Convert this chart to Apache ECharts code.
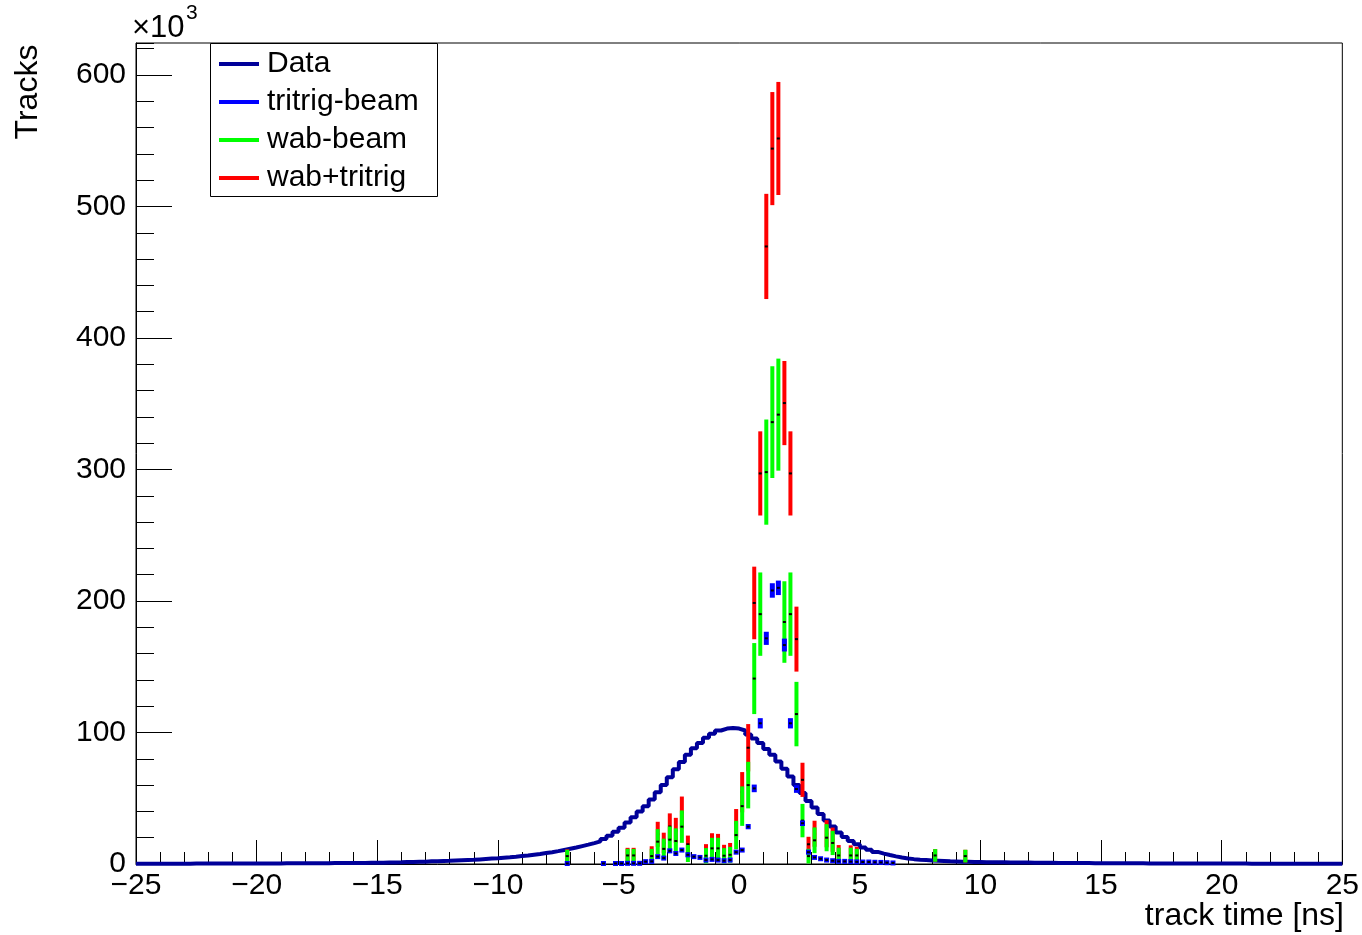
<!DOCTYPE html>
<html>
<head>
<meta charset="utf-8">
<script src="https://cdn.jsdelivr.net/npm/echarts@6/dist/echarts.min.js"></script>
<style>
html,body{margin:0;padding:0;background:#fff;}
#main{width:1362px;height:935px;}
</style>
</head>
<body>
<div id="main"></div>
<script>
// ---- Data (values in thousands of tracks) ----
const binLow = -25;
const binWidth = 0.25;
const dataCounts = [
  0.2,0.2,0.2,0.2,0.2,0.2,0.2,0.2,0.2,0.3,
  0.3,0.3,0.3,0.3,0.3,0.3,0.3,0.4,0.4,0.4,
  0.4,0.4,0.4,0.4,0.5,0.5,0.5,0.5,0.6,0.6,
  0.6,0.6,0.7,0.7,0.7,0.8,0.8,0.8,0.9,0.9,
  1.0,1.1,1.2,1.3,1.5,1.6,1.7,1.8,2.0,2.1,
  2.3,2.4,2.6,2.8,3.0,3.2,3.5,3.8,4.1,4.4,
  4.8,5.1,5.5,6.0,6.4,7.0,7.6,8.3,9.0,9.8,
  10.7,11.6,12.5,13.6,14.7,15.9,17.2,19.0,21.5,24.5,
  27.5,31.5,35.5,40,44,49,54.5,60,66,72,
  77.5,83,88,92,96,99,101.5,103,103.5,103,
  101.5,98.5,95.5,92,87.5,83,78,72.5,66.5,60,
  54,48,43,38,33,28.5,24,20.5,17.5,15,
  12.5,10.8,9.2,7.9,6.8,5.8,4.9,4.2,3.7,3.3,
  3.0,2.7,2.5,2.3,2.1,1.95,1.8,1.7,1.6,1.5,
  1.4,1.35,1.3,1.25,1.2,1.15,1.1,1.05,1.0,0.95,
  0.9,0.9,0.85,0.8,0.8,0.75,0.7,0.7,0.65,0.6,
  0.6,0.6,0.55,0.55,0.5,0.5,0.5,0.45,0.45,0.45,
  0.4,0.4,0.4,0.4,0.35,0.35,0.35,0.35,0.3,0.3,
  0.3,0.3,0.3,0.3,0.25,0.25,0.25,0.25,0.25,0.25,
  0.2,0.2,0.2,0.2,0.2,0.2,0.2,0.2,0.2,0.2
];

const tritrigT = [-7.125,-5.625,-5.125,-4.875,-4.625,-4.375,-4.125,-3.875,-3.625,-3.375,-3.125,-2.875,-2.625,-2.375,-2.125,-1.875,-1.625,-1.375,-1.125,-0.875,-0.625,-0.375,-0.125,0.125,0.375,0.625,0.875,1.125,1.375,1.625,1.875,2.125,2.375,2.625,2.875,3.125,3.375,3.625,3.875,4.125,4.375,4.625,4.875,5.125,5.375,5.625,5.875,6.125,6.375];
const tritrigV = [0.4,0.4,0.4,0.4,0.5,0.5,0.5,1.8,2,5.6,4.5,10,8,10.6,7,5.6,5,3,3.5,3,2.5,3,9,10.6,28.4,57.5,107,171.6,208,210,166.5,107,57,31,9,5,4,3,2.5,2,2,1.8,1.6,1.5,1.5,1.3,1.2,1.0,0.8];
const tritrigE = [0.24,0.24,0.24,0.24,0.27,0.27,0.27,0.5,0.54,0.9,0.8,1.2,1.1,1.2,1.0,0.9,0.85,0.66,0.7,0.66,0.6,0.66,1.15,1.2,2.0,2.9,3.9,5.0,5.5,5.5,4.9,3.9,2.9,2.1,1.15,0.85,0.76,0.66,0.6,0.54,0.54,0.5,0.48,0.47,0.47,0.43,0.42,0.38,0.34];

const wabT = [-7.125,-4.625,-4.375,-3.625,-3.375,-3.125,-2.875,-2.625,-2.375,-2.125,-1.375,-1.125,-0.875,-0.625,-0.375,-0.125,0.125,0.375,0.625,0.875,1.125,1.375,1.625,1.875,2.125,2.375,2.625,2.875,3.125,3.625,3.875,4.125,4.625,4.875,8.125,9.375];
const wabV = [6,6.5,6.5,6,17,11.5,18.5,17.5,28.4,8,6.3,11.9,11.9,6.3,7,22,44,60,141,190,298,336,341.7,184,190,114,33,6,18,20,16,6.5,6.5,6.5,6.5,6];
const wabE = [4.8,5,5,5.5,9.5,7.8,10,9.6,12.3,6.5,5.8,8,8,5.8,6,10.8,15,17.7,27,31.7,40,42.5,42.6,31,31.7,24.5,12.7,5.6,9.8,10.3,9.2,5.9,5.9,5,4.8,4.8];

const sumT = [-7.125,-5.625,-5.125,-4.875,-4.625,-4.375,-4.125,-3.875,-3.625,-3.375,-3.125,-2.875,-2.625,-2.375,-2.125,-1.875,-1.625,-1.375,-1.125,-0.875,-0.625,-0.375,-0.125,0.125,0.375,0.625,0.875,1.125,1.375,1.625,1.875,2.125,2.375,2.625,2.875,3.125,3.375,3.625,3.875,4.125,4.375,4.625,4.875,5.125,5.375,5.625,5.875,6.125,6.375,8.125,9.375];
const sumV = [6.4,0.4,0.4,0.4,6.8,6.8,0.5,1.8,8,22.6,16,28.5,25.5,39,15,5.6,5,9.3,15.4,14.9,8.8,10,31,54.6,88.4,198.5,297,469.6,544,551.7,350.5,297,171,64,15,23,4,23,18.5,8.5,2,8.3,8.1,1.5,1.5,1.3,1.2,1.0,0.8,6.5,6];
const sumE = [4.8,0.24,0.24,0.24,5.5,5.5,0.27,0.5,5.5,9.5,7.8,10,9.6,12.3,6.6,0.9,0.85,5.8,8,8,5.8,6,10.8,15.3,18,27.6,32,40,43,43,32,32,24.7,13,5.7,9.9,0.8,10.3,9.2,5.9,0.54,5.9,5,0.47,0.47,0.43,0.42,0.38,0.34,4.8,4.8];

const xTicksMajor = 5, yTicksMajor = 100, yTicksMinor = 20;
const yMax = 624.3;

// ---- Build series data ----
const histLine = [];
dataCounts.forEach((v, i) => {
  histLine.push([binLow + i * binWidth, v]);
  histLine.push([binLow + (i + 1) * binWidth, v]);
});
const toPts = (T, V, E) => T.map((t, i) => [t, V[i], E[i]]);

const FONT = 'Liberation Sans, Arial, Helvetica, sans-serif';
const NAVY = '#000099', BLUE = '#0000ff', GREEN = '#00ff00', RED = '#ff0000';

function errRenderer(color, w, minH) {
  return function (params, api) {
    const t = api.value(0), v = api.value(1), e = api.value(2);
    const c = api.coord([t, v]);
    const top = api.coord([t, v + e])[1];
    const bot = api.coord([t, Math.max(v - e, 0)])[1];
    let y0 = top, h = bot - top;
    if (h < minH) { y0 = c[1] - minH / 2; h = minH; }
    return {
      type: 'group',
      children: [
        { type: 'rect', shape: { x: c[0] - w / 2, y: y0, width: w, height: h }, style: { fill: color } },
        { type: 'rect', shape: { x: c[0] - 1.5, y: c[1] - 1, width: 3, height: 2 }, style: { fill: '#000' } }
      ]
    };
  };
}

const chart = echarts.init(document.getElementById('main'), null, { renderer: 'canvas' });
chart.setOption({
  animation: false,
  backgroundColor: '#fff',
  textStyle: { fontFamily: FONT },
  grid: { left: 136, right: 18, top: 43, bottom: 71, show: true, borderColor: '#000', borderWidth: 1, backgroundColor: 'transparent' },
  xAxis: {
    type: 'value', min: -25, max: 25, interval: xTicksMajor,
    axisLine: { show: true, onZero: false, lineStyle: { color: '#000', width: 1 } },
    axisTick: { show: true, inside: true, length: 24, lineStyle: { color: '#000', width: 1 } },
    minorTick: { show: true, splitNumber: 5, length: 12, lineStyle: { color: '#000', width: 1 } },
    splitLine: { show: false },
    axisLabel: {
      color: '#000', fontSize: 30, fontFamily: FONT, margin: 7,
      formatter: v => (v < 0 ? '\u2212' + (-v) : String(v))
    }
  },
  yAxis: [
    {
      type: 'value', min: 0, max: yMax, interval: yTicksMajor,
      axisLine: { show: true, onZero: false, lineStyle: { color: '#000', width: 1 } },
      axisTick: { show: true, inside: true, length: 36, lineStyle: { color: '#000', width: 1 } },
      splitLine: { show: false },
      axisLabel: { color: '#000', fontSize: 30, fontFamily: FONT, margin: 10, showMaxLabel: false,
        formatter: v => (v % 100 === 0 ? String(v) : '') }
    },
    {
      type: 'value', min: 0, max: yMax, interval: yTicksMinor, position: 'left',
      axisLine: { show: false, onZero: false },
      axisTick: { show: true, inside: true, length: 18, lineStyle: { color: '#000', width: 1 } },
      splitLine: { show: false },
      axisLabel: { show: false }
    }
  ],
  legend: {
    orient: 'vertical', left: 214, top: 44, itemWidth: 40, itemHeight: 4, itemGap: 8,
    icon: 'rect', selectedMode: false, z: 10,
    data: ['Data', 'tritrig-beam', 'wab-beam', 'wab+tritrig'],
    textStyle: { color: '#000', fontSize: 30, fontFamily: FONT, lineHeight: 30, padding: [0, 0, 0, 3] }
  },
  graphic: [
    { type: 'rect', z: 5, shape: { x: 210.5, y: 43.5, width: 227, height: 153 }, style: { fill: '#fff', stroke: '#000', lineWidth: 1 } },
    { type: 'text', x: 28, y: 92, rotation: Math.PI / 2, style: { text: 'Tracks', fontSize: 32, fontFamily: FONT, fill: '#000', align: 'center', verticalAlign: 'middle' } },
    { type: 'text', x: 1344, y: 916, style: { text: 'track time [ns]', fontSize: 32, fontFamily: FONT, fill: '#000', align: 'right', verticalAlign: 'middle' } },
    { type: 'text', x: 132, y: 28, style: { text: '\u00d710', fontSize: 31, fontFamily: FONT, fill: '#000', align: 'left', verticalAlign: 'middle' } },
    { type: 'text', x: 186, y: 13, style: { text: '3', fontSize: 21, fontFamily: FONT, fill: '#000', align: 'left', verticalAlign: 'middle' } }
  ],
  series: [
    {
      name: 'Data', type: 'line', data: histLine, showSymbol: false, symbol: 'none', color: NAVY,
      lineStyle: { color: NAVY, width: 4 }, itemStyle: { color: NAVY }, z: 2, clip: true
    },
    {
      name: 'wab+tritrig', type: 'custom', color: RED, itemStyle: { color: RED },
      renderItem: errRenderer(RED, 4, 2), data: toPts(sumT, sumV, sumE), encode: { x: 0, y: 1 }, z: 3
    },
    {
      name: 'wab-beam', type: 'custom', color: GREEN, itemStyle: { color: GREEN },
      renderItem: errRenderer(GREEN, 4, 2), data: toPts(wabT, wabV, wabE), encode: { x: 0, y: 1 }, z: 3
    },
    {
      name: 'tritrig-beam', type: 'custom', color: BLUE, itemStyle: { color: BLUE },
      renderItem: errRenderer(BLUE, 5, 5), data: toPts(tritrigT, tritrigV, tritrigE), encode: { x: 0, y: 1 }, z: 3
    }
  ]
});
</script>
</body>
</html>
